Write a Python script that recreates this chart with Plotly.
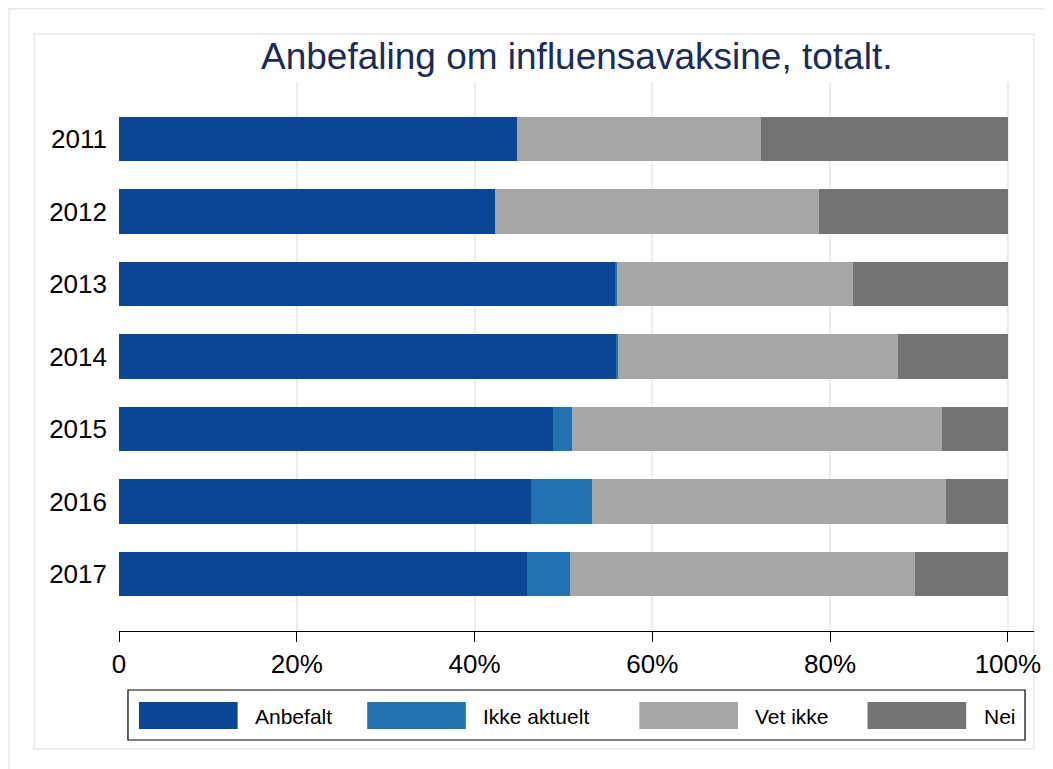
import plotly.graph_objects as go

# data (percent of respondents)
years = ["2011", "2012", "2013", "2014", "2015", "2016", "2017"]
anbefalt = [44.8, 42.3, 55.9, 56.0, 48.8, 46.4, 45.9]
ikke_aktuelt = [0.0, 0.0, 0.1, 0.1, 2.2, 6.8, 4.8]
vet_ikke = [27.4, 36.5, 26.6, 31.5, 41.6, 39.8, 38.8]
nei = [27.8, 21.2, 17.4, 12.4, 7.4, 7.0, 10.5]

series_names = ["Anbefalt", "Ikke aktuelt", "Vet ikke", "Nei"]
series_values = [anbefalt, ikke_aktuelt, vet_ikke, nei]
series_colors = ["#0a4694", "#2372b4", "#a6a6a6", "#737373"]

tick_vals = [0, 20, 40, 60, 80, 100]
tick_text = ["0", "20%", "40%", "60%", "80%", "100%"]

title_text = "Anbefaling om influensavaksine, totalt."

# the page body has an 8px margin, so the figure sits at (8, 8) in the window
OFF = 8
W, H = 1045, 761
ML, MR, MT, MB = 111, 16, 74, 138
PW, PH = W - ML - MR, H - MT - MB
FONT = "Liberation Sans, Arial, sans-serif"


def px_x(px):
    """window pixel column -> paper x"""
    return (px - OFF - ML) / PW


def px_y(py):
    """window pixel row -> paper y"""
    return (H - MB - (py - OFF)) / PH


fig = go.Figure()
for name, vals, col in zip(series_names, series_values, series_colors):
    fig.add_trace(
        go.Bar(
            y=years,
            x=vals,
            name=name,
            orientation="h",
            marker=dict(color=col, line=dict(width=0)),
            showlegend=False,
        )
    )

shapes = []
annotations = []

# outer and inner frames
shapes.append(
    dict(type="rect", xref="paper", yref="paper",
         x0=px_x(8.75), x1=px_x(1070), y0=px_y(8.75), y1=px_y(790),
         line=dict(color="#e3ebef", width=1.5), layer="below")
)
shapes.append(
    dict(type="rect", xref="paper", yref="paper",
         x0=px_x(34), x1=px_x(1036.7), y0=px_y(34), y1=px_y(749),
         line=dict(color="#e3ebef", width=1.5), layer="below")
)

# hand-built legend with Stata-like wide swatches
shapes.append(
    dict(type="rect", xref="paper", yref="paper",
         x0=px_x(128), x1=px_x(1028), y0=px_y(690), y1=px_y(740),
         line=dict(color="black", width=1.2), fillcolor="white")
)
sw_left = [139, 368, 641, 870]
txt_left = [253, 482.5, 755, 984.5]
for name, col, sx, tx in zip(series_names, series_colors, sw_left, txt_left):
    shapes.append(
        dict(type="rect", xref="paper", yref="paper",
             x0=px_x(sx), x1=px_x(sx + 99), y0=px_y(702), y1=px_y(729),
             line=dict(color=col, width=0), fillcolor=col)
    )
    annotations.append(
        dict(text=name, xref="paper", yref="paper", x=px_x(tx), y=px_y(716),
             xanchor="left", yanchor="middle", showarrow=False,
             font=dict(family=FONT, size=21, color="black"))
    )

annotations.append(
    dict(text=title_text, xref="paper", yref="paper", x=0.5, y=px_y(56),
         xanchor="center", yanchor="middle", showarrow=False,
         font=dict(family=FONT, size=37, color="#1c2c58"))
)

fig.update_layout(
    width=W,
    height=H,
    margin=dict(l=ML, r=MR, t=MT, b=MB, pad=0),
    paper_bgcolor="white",
    plot_bgcolor="white",
    barmode="stack",
    bargap=0.39,
    font=dict(family=FONT, size=26, color="black"),
    shapes=shapes,
    annotations=annotations,
    showlegend=False,
)

fig.update_xaxes(
    range=[0, 100 * PW / 891.8],
    tickvals=tick_vals,
    ticktext=tick_text,
    ticks="outside",
    ticklen=10,
    tickwidth=1,
    tickcolor="black",
    showline=True,
    linecolor="black",
    linewidth=1,
    showgrid=True,
    gridcolor="#e6eef1",
    gridwidth=1.5,
    zeroline=False,
    tickfont=dict(size=26),
)

fig.update_yaxes(
    categoryorder="array",
    categoryarray=years,
    range=[len(years) - 1 + 0.786, -0.786],
    showgrid=False,
    zeroline=False,
    showline=False,
    ticks="",
    ticklabelstandoff=11,
    tickfont=dict(size=26),
)

fig.write_html("out.html")
